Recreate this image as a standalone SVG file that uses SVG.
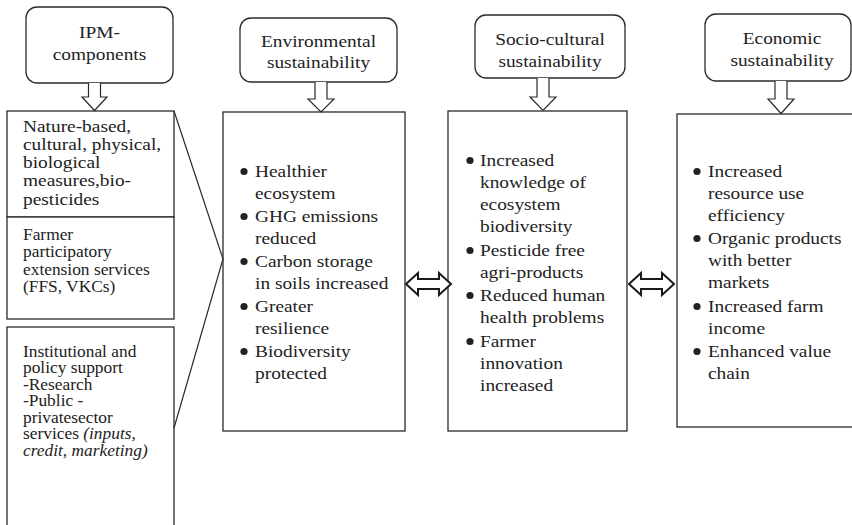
<svg xmlns="http://www.w3.org/2000/svg" width="852" height="525" viewBox="0 0 852 525">
<style>
  .box{fill:#fff;stroke:#2a2a2a;stroke-width:1.3}
  .tb{fill:#fff;stroke:#2a2a2a;stroke-width:1.3}
  text{font-family:'Liberation Serif','Times New Roman',Tinos,serif;font-size:17.6px;fill:#222}
  .s{font-size:15.8px}
  .c{text-anchor:middle}
  .i{font-style:italic}
  .ln{fill:none;stroke:#2a2a2a;stroke-width:1.2}
  .da{fill:#fff;stroke:#2a2a2a;stroke-width:1.2;stroke-linejoin:miter}
  .dd{fill:#fff;stroke:#1a1a1a;stroke-width:2;stroke-linejoin:miter}
  .b{fill:#222}
</style>
<rect width="852" height="525" fill="#fff"/>

<g id="ipm-title">
  <rect class="tb" x="26" y="7" width="147" height="76" rx="11"/>
  <text class="c" font-family="Liberation Serif" transform="translate(99.5,0) scale(1.1,1)"><tspan x="0" y="38">IPM-</tspan><tspan x="0" y="60">components</tspan></text>
</g>

<g id="ipm-nature">
  <rect class="box" x="7" y="111" width="167" height="106"/>
  <text font-family="Liberation Serif" transform="translate(23,0) scale(1.1,1)"><tspan x="0" y="132">Nature-based,</tspan><tspan x="0" y="150">cultural, physical,</tspan><tspan x="0" y="168">biological</tspan><tspan x="0" y="186">measures,bio-</tspan><tspan x="0" y="205">pesticides</tspan></text>
</g>

<g id="ipm-farmer">
  <rect class="box" x="7" y="217" width="167" height="102"/>
  <text class="s" font-family="Liberation Serif" transform="translate(23,0) scale(1.1,1)"><tspan x="0" y="240">Farmer</tspan><tspan x="0" y="257.5">participatory</tspan><tspan x="0" y="275">extension services</tspan><tspan x="0" y="292.5">(FFS, VKCs)</tspan></text>
</g>

<g id="ipm-institutional">
  <rect class="box" x="7" y="327" width="167" height="210"/>
  <text class="s" font-family="Liberation Serif" transform="translate(23,0) scale(1.1,1)"><tspan x="0" y="357">Institutional and</tspan><tspan x="0" y="373.5">policy support</tspan><tspan x="0" y="390">-Research</tspan><tspan x="0" y="406.5">-Public -</tspan><tspan x="0" y="423">privatesector</tspan><tspan x="0" y="439.5">services <tspan class="i">(inputs,</tspan></tspan><tspan x="0" y="456" class="i">credit, marketing)</tspan></text>
</g>

<g id="env-title">
  <rect class="tb" x="240" y="18" width="157" height="64" rx="11"/>
  <text class="c" font-family="Liberation Serif" transform="translate(318.5,0) scale(1.1,1)"><tspan x="0" y="47">Environmental</tspan><tspan x="0" y="68">sustainability</tspan></text>
</g>

<g id="env-box">
  <rect class="box" x="223" y="112" width="182" height="319"/>
  <circle class="b" cx="244" cy="171.5" r="3.6"/>
  <circle class="b" cx="244" cy="216.5" r="3.6"/>
  <circle class="b" cx="244" cy="261.5" r="3.6"/>
  <circle class="b" cx="244" cy="306.5" r="3.6"/>
  <circle class="b" cx="244" cy="351.5" r="3.6"/>
  <text font-family="Liberation Serif" transform="translate(255,0) scale(1.1,1)"><tspan x="0" y="177">Healthier</tspan><tspan x="0" y="199">ecosystem</tspan><tspan x="0" y="222">GHG emissions</tspan><tspan x="0" y="244">reduced</tspan><tspan x="0" y="267">Carbon storage</tspan><tspan x="0" y="289">in soils increased</tspan><tspan x="0" y="312">Greater</tspan><tspan x="0" y="334">resilience</tspan><tspan x="0" y="357">Biodiversity</tspan><tspan x="0" y="379">protected</tspan></text>
</g>

<g id="socio-title">
  <rect class="tb" x="475" y="15" width="150" height="63" rx="11"/>
  <text class="c" font-family="Liberation Serif" transform="translate(550,0) scale(1.1,1)"><tspan x="0" y="45">Socio-cultural</tspan><tspan x="0" y="67">sustainability</tspan></text>
</g>

<g id="socio-box">
  <rect class="box" x="448" y="111" width="179" height="320"/>
  <circle class="b" cx="470" cy="160.5" r="3.6"/>
  <circle class="b" cx="470" cy="250.5" r="3.6"/>
  <circle class="b" cx="470" cy="295.5" r="3.6"/>
  <circle class="b" cx="470" cy="341.5" r="3.6"/>
  <text font-family="Liberation Serif" transform="translate(480,0) scale(1.1,1)"><tspan x="0" y="166">Increased</tspan><tspan x="0" y="188">knowledge of</tspan><tspan x="0" y="210">ecosystem</tspan><tspan x="0" y="232">biodiversity</tspan><tspan x="0" y="256">Pesticide free</tspan><tspan x="0" y="278">agri-products</tspan><tspan x="0" y="301">Reduced human</tspan><tspan x="0" y="323">health problems</tspan><tspan x="0" y="347">Farmer</tspan><tspan x="0" y="369">innovation</tspan><tspan x="0" y="391">increased</tspan></text>
</g>

<g id="econ-title">
  <rect class="tb" x="705" y="14" width="146" height="67" rx="11"/>
  <text class="c" font-family="Liberation Serif" transform="translate(782,0) scale(1.1,1)"><tspan x="0" y="44">Economic</tspan><tspan x="0" y="66">sustainability</tspan></text>
</g>

<g id="econ-box">
  <rect class="box" x="677" y="114" width="190" height="313"/>
  <circle class="b" cx="697" cy="171.5" r="3.6"/>
  <circle class="b" cx="697" cy="238.5" r="3.6"/>
  <circle class="b" cx="697" cy="306.5" r="3.6"/>
  <circle class="b" cx="697" cy="351.5" r="3.6"/>
  <text font-family="Liberation Serif" transform="translate(708,0) scale(1.1,1)"><tspan x="0" y="177">Increased</tspan><tspan x="0" y="199">resource use</tspan><tspan x="0" y="221">efficiency</tspan><tspan x="0" y="244">Organic products</tspan><tspan x="0" y="266">with better</tspan><tspan x="0" y="288">markets</tspan><tspan x="0" y="312">Increased farm</tspan><tspan x="0" y="334">income</tspan><tspan x="0" y="357">Enhanced value</tspan><tspan x="0" y="379">chain</tspan></text>
</g>

<g id="connectors">
  <path class="da" d="M88.5,83 V97 H82 L94.5,110.5 L107,97 H100.5 V83"/>
  <path class="da" d="M315,82 V99 H308 L321,112 L334,99 H327 V82"/>
  <path class="da" d="M537,78 V97 H530 L543,110.5 L556,97 H549 V78"/>
  <path class="da" d="M775,81 V99 H768 L781,113.5 L794,99 H787 V81"/>
  <path class="ln" d="M174,111 L223,259 L174,428"/>
  <path class="dd" d="M406,284 L418,273 V279 H439 V273 L451,284 L439,295 V289 H418 V295 Z"/>
  <path class="dd" d="M629,284 L641,273 V279 H662 V273 L674,284 L662,295 V289 H641 V295 Z"/>
</g>
</svg>
